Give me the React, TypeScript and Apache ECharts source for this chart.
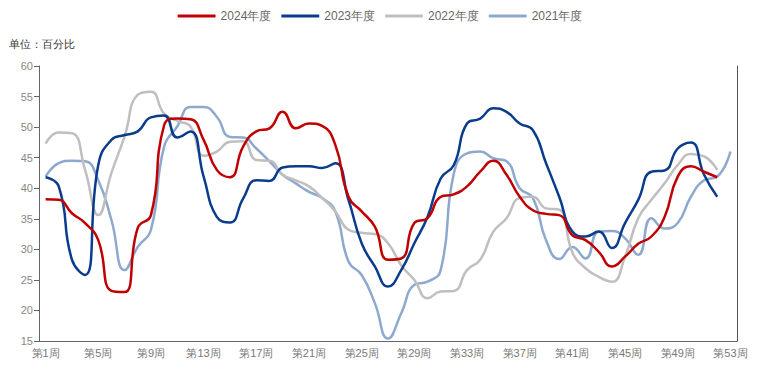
import React, { useEffect, useRef } from "react";
import * as echarts from "echarts";

const weeks: string[] = Array.from({ length: 53 }, (_, i) => `第${i + 1}周`);

const s2024: (number | null)[] = [
  38.2, 38.1, 35.9, 34.3, 31.5, 23.2, 23.0, 33.5, 35.6, 50.3,
  51.4, 51.3, 47.9, 43.0, 41.8, 46.8, 49.3, 49.8, 52.5, 49.8,
  50.6, 50.2, 47.1, 38.6, 36.2, 33.7, 28.3, 28.5, 34.3, 35.1,
  38.6, 39.0, 40.3, 42.7, 44.5, 42.2, 38.6, 36.4, 35.8, 35.6,
  32.3, 31.5, 29.6, 27.2, 28.8, 30.9, 32.1, 35.3, 41.9, 43.6,
  42.7, 41.8, null,
];
const s2023: (number | null)[] = [
  41.8, 40.3, 28.3, 25.8, 43.8, 47.9, 48.7, 49.3, 51.6, 51.9,
  48.3, 49.3, 41.9, 35.3, 34.4, 38.3, 41.3, 41.2, 43.4, 43.6,
  43.6, 43.3, 44.1, 38.1, 31.0, 27.2, 23.9, 26.6, 31.0, 35.3,
  41.6, 43.8, 50.6, 51.4, 53.1, 52.5, 50.6, 49.5, 44.1, 38.6,
  32.9, 32.1, 32.9, 30.2, 34.3, 38.1, 42.7, 42.9, 46.5, 47.5,
  42.2, 38.6, null,
];
const s2022: (number | null)[] = [
  47.3, 49.1, 49.0, 43.0, 35.6, 42.5, 48.5, 55.3, 55.8, 52.2,
  51.0, 50.1, 45.3, 46.0, 47.6, 47.7, 44.6, 44.5, 42.2, 41.3,
  40.3, 38.4, 36.2, 33.2, 32.7, 32.5, 31.0, 27.4, 25.0, 22.0,
  23.1, 23.2, 26.6, 28.3, 32.9, 35.1, 38.4, 38.6, 36.7, 36.5,
  29.5, 26.9, 25.5, 24.7, 28.8, 35.1, 38.1, 40.8, 43.8, 45.6,
  45.2, 43.0, null,
];
const s2021: (number | null)[] = [
  41.9, 44.1, 44.5, 44.4, 41.3, 34.8, 26.6, 30.4, 33.2, 46.8,
  50.1, 53.3, 53.3, 51.7, 48.4, 48.3, 46.5, 44.4, 42.2, 40.8,
  39.4, 38.4, 36.2, 28.0, 25.8, 21.2, 15.4, 19.5, 24.2, 24.7,
  26.6, 42.4, 45.7, 46.0, 44.9, 44.4, 40.0, 38.4, 31.5, 28.4,
  30.4, 28.5, 32.9, 33.0, 31.8, 29.1, 35.1, 33.4, 34.3, 38.6,
  41.3, 41.9, 46.0,
];

const seriesNames = ["2024年度", "2023年度", "2022年度", "2021年度"];
const seriesColors = ["#C00000", "#0A3C8C", "#BFBFBF", "#8EA9CE"];
const seriesData = [s2024, s2023, s2022, s2021];

export default function App() {
  const ref = useRef<HTMLDivElement>(null);
  useEffect(() => {
    if (!ref.current) return;
    const chart = echarts.init(ref.current, null, { renderer: "svg" });
    chart.setOption({
      animation: false,
      title: {
        text: "单位：百分比",
        left: 4,
        top: 33,
        textStyle: { fontSize: 11, fontWeight: "normal", color: "#333" },
      },
      legend: {
        top: 5,
        left: "center",
        icon: "roundRect",
        itemWidth: 38,
        itemHeight: 3,
        itemGap: 10,
        textStyle: { fontSize: 12, color: "#666" },
        data: seriesNames,
      },
      grid: { left: 39, right: 23, top: 66, bottom: 29 },
      xAxis: {
        type: "category",
        data: weeks,
        boundaryGap: true,
        axisLine: { lineStyle: { color: "#666" } },
        axisTick: { interval: 3, lineStyle: { color: "#666" } },
        axisLabel: { interval: 3, fontSize: 11, color: "#777", margin: 6 },
      },
      yAxis: [
        {
          type: "value",
          min: 15,
          max: 60,
          interval: 5,
          splitLine: { show: false },
          axisLine: { show: true, lineStyle: { color: "#666" } },
          axisTick: { show: true, lineStyle: { color: "#666" } },
          axisLabel: { fontSize: 11, color: "#888", margin: 6 },
        },
        {
          type: "value",
          position: "right",
          min: 15,
          max: 60,
          interval: 5,
          splitLine: { show: false },
          axisLine: { show: true, lineStyle: { color: "#555" } },
          axisTick: { show: false },
          axisLabel: { show: false },
        },
      ],
      series: seriesNames.map((name, i) => ({
        name,
        type: "line",
        data: seriesData[i],
        smooth: true,
        symbol: "none",
        lineStyle: { width: 2.5, color: seriesColors[i] },
        itemStyle: { color: seriesColors[i] },
        z: 10 - i,
      })),
    });
    return () => chart.dispose();
  }, []);
  return (
    <div
      ref={ref}
      style={{ position: "fixed", left: 0, top: 0, width: 760, height: 370, background: "#fff" }}
    />
  );
}
